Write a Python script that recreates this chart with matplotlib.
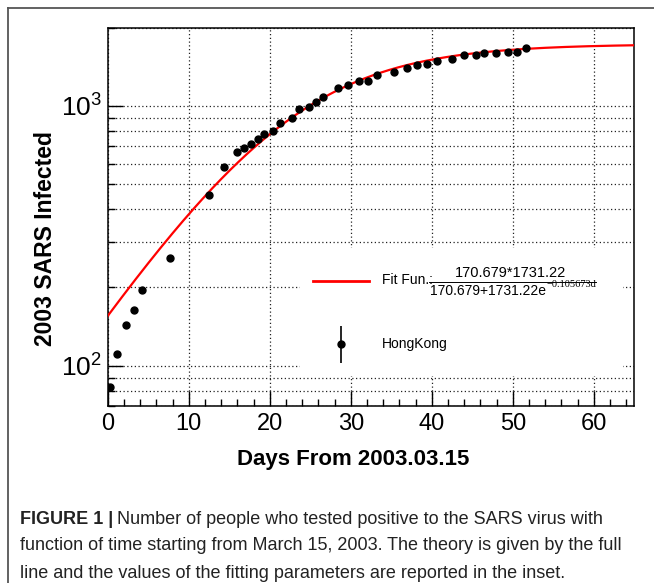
import numpy as np
import matplotlib
matplotlib.use("Agg")
import matplotlib.pyplot as plt
from matplotlib.ticker import LogLocator, LogFormatterMathtext, NullFormatter, MultipleLocator
from matplotlib.patches import Rectangle
from matplotlib.lines import Line2D

# === Datos: casos SARS Hong Kong ===
dias = [0.3, 1.2, 2.3, 3.3, 4.2, 7.7, 12.5, 14.3, 15.9, 16.8, 17.7, 18.5,
        19.3, 20.4, 21.3, 22.7, 23.6, 24.9, 25.7, 26.6, 28.4, 29.7, 31.0,
        32.1, 33.2, 35.4, 37.0, 38.2, 39.4, 40.7, 42.5, 44.0, 45.4, 46.5,
        47.9, 49.4, 50.5, 51.6]
infectados = [83, 111, 143, 164, 196, 260, 455, 582, 663, 691, 716, 747,
              780, 801, 858, 897, 971, 994, 1033, 1086, 1173, 1208, 1248,
              1245, 1313, 1352, 1404, 1434, 1455, 1490, 1512, 1572, 1570,
              1604, 1604, 1610, 1613, 1672]

# parametros del ajuste (leyenda)
p_a = 170.679
p_b = 1731.22
p_k = 0.105673

plt.rcParams['font.family'] = ['Liberation Sans', 'DejaVu Sans']
plt.rcParams['mathtext.fontset'] = 'custom'
plt.rcParams['mathtext.rm'] = 'Liberation Sans'

W, H = 654, 583
fig = plt.figure(figsize=(W / 100, H / 100), dpi=100)

# marco exterior
fig.add_artist(Line2D([8 / W, 1], [1 - 8 / H, 1 - 8 / H], color='#555555', lw=1.3))
fig.add_artist(Line2D([8 / W, 8 / W], [1 - 8 / H, 0], color='#555555', lw=1.3))

x0, x1 = 107.7, 634.3
y0, y1 = 27.8, 405.9
ax = fig.add_axes([x0 / W, 1 - y1 / H, (x1 - x0) / W, (y1 - y0) / H])

t = np.linspace(0, 65, 400)
ajuste = p_a * p_b / (p_a + p_b * np.exp(-p_k * t))
ax.plot(t, ajuste, color='#ff0000', lw=1.6, zorder=3)
ax.plot(dias, infectados, 'o', color='black', ms=5, zorder=4)

ax.set_yscale('log')
ax.set_xlim(0, 65)
ax.set_ylim(70, 2000)

ax.xaxis.set_major_locator(MultipleLocator(10))
ax.xaxis.set_minor_locator(MultipleLocator(2))
ax.yaxis.set_major_locator(LogLocator(base=10))
ax.yaxis.set_minor_locator(LogLocator(base=10, subs=np.arange(2, 10)))
ax.yaxis.set_major_formatter(LogFormatterMathtext())
ax.yaxis.set_minor_formatter(NullFormatter())

ax.tick_params(which='both', direction='in', top=False, right=False, width=1)
ax.tick_params(which='major', length=10.5, pad=5)
ax.tick_params(axis='x', labelsize=17)
ax.tick_params(axis='y', labelsize=19, pad=4)
ax.tick_params(which='minor', length=5)
for s in ax.spines.values():
    s.set_linewidth(1.1)

ax.set_axisbelow(True)
ax.grid(True, which='major', axis='x', color='#222222', ls=(0, (1, 2)), lw=0.9)
ax.grid(True, which='both', axis='y', color='#222222', ls=(0, (1, 2)), lw=0.9)

def fx(px):
    return (px - x0) / (x1 - x0)

def fy(py):
    return (y1 - py) / (y1 - y0)

ax.set_xlabel('Days From 2003.03.15', fontsize=16, fontweight='bold')
ax.set_ylabel('2003 SARS Infected', fontsize=16.5, fontweight='bold')
ax.xaxis.set_label_coords(fx(353), fy(460))
ax.yaxis.set_label_coords(fx(45.7), fy(239))
ax.xaxis.label.set_va('center')
ax.yaxis.label.set_va('center')

# === Leyenda estilo ROOT ===
ax.add_patch(Rectangle((fx(300), fy(376)), fx(623) - fx(300), fy(248) - fy(376),
                       transform=ax.transAxes, facecolor='white', edgecolor='none', zorder=1))
ax.plot([fx(312.7), fx(369.3)], [fy(281), fy(281)], color='#ff0000', lw=2,
        transform=ax.transAxes, zorder=5)
ax.text(fx(381.7), fy(280), 'Fit Fun.:', transform=ax.transAxes, fontsize=10,
        va='center', ha='left', zorder=5)
ax.text(fx(510), fy(272.7), '170.679*1731.22', transform=ax.transAxes, fontsize=10.5,
        va='center', ha='center', zorder=5)
den = ax.text(fx(430), fy(290.7), '170.679+1731.22e', transform=ax.transAxes, fontsize=10,
              va='center', ha='left', zorder=5)
fig.canvas.draw()
den_bb = den.get_window_extent()
expo = ax.text(den_bb.x1 + 0.5, H - 284.5, '\u22120.105673d', transform=None, fontsize=7.5,
               family='Liberation Serif', va='center', ha='left', zorder=5)
fig.canvas.draw()
exp_bb = expo.get_window_extent()
ax.plot([fx(429), fx(exp_bb.x1)], [fy(281.5), fy(281.5)], color='black', lw=0.7,
        transform=ax.transAxes, zorder=5)

ax.errorbar([fx(341)], [fy(344.3)], yerr=[[fy(344.3) - fy(363.3)], [fy(326) - fy(344.3)]],
            fmt='o', color='black', ms=5, elinewidth=1.2, capsize=0,
            transform=ax.transAxes, zorder=5)
ax.text(fx(381.7), fy(344.3), 'HongKong', transform=ax.transAxes, fontsize=10,
        va='center', ha='left', zorder=5)

# === Pie de figura ===
cap_x = 20 / W
t1 = fig.text(cap_x, 1 - 519 / H, 'FIGURE 1 |', fontsize=13, fontweight='bold',
              va='center', ha='left', color='#222222')
fig.canvas.draw()
bb = t1.get_window_extent()
fig.text((bb.x1 + 4) / W, 1 - 519 / H, 'Number of people who tested positive to the SARS virus with',
         fontsize=13, va='center', ha='left', color='#222222')
lineas = ['function of time starting from March 15, 2003. The theory is given by the full',
          'line and the values of the fitting parameters are reported in the inset.']
for i, l in enumerate(lineas):
    fig.text(cap_x, 1 - (546 + 27 * i) / H, l, fontsize=13, va='center', ha='left',
             color='#222222')

fig.savefig('out.png', dpi=100)
